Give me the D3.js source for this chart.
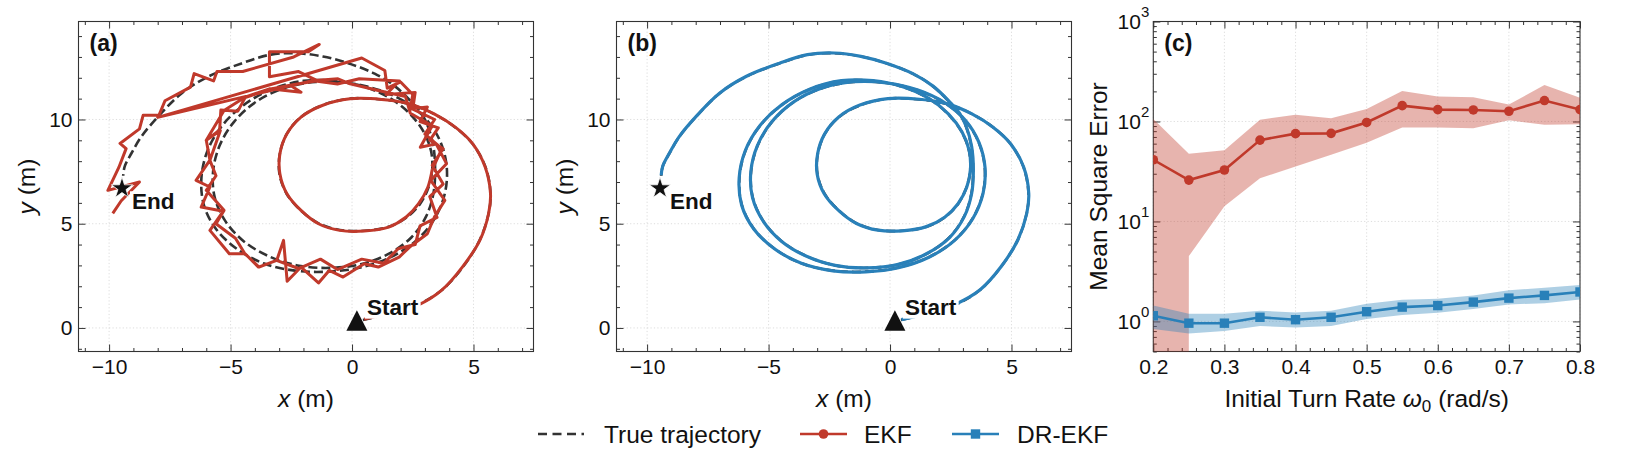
<!DOCTYPE html>
<html>
<head>
<meta charset="utf-8">
<script src="https://cdn.jsdelivr.net/npm/d3@7"></script>
<style>
  body { margin: 0; background: #fff; }
  text { font-family: "Liberation Sans", Arial, Helvetica, sans-serif; fill: #111; }
</style>
</head>
<body>
<script>
// ---- data ----
var startPt = [0.2, 0.35];
var endPt = [-9.47, 6.7];

// true trajectory (x, y in m)
var truePath = [
  [0.45,0.38],[1.5,0.68],[2.7,1.12],[3.7,1.82],[4.55,2.9],[5.25,4.2],[5.62,5.48],[5.7,6.45],[5.5,7.7],
  [4.97,8.82],[4.25,9.62],[3.38,10.26],[2.37,10.74],[1.22,10.96],[-0.08,11.0],[-1.23,10.68],[-2.1,10.12],
  [-2.68,9.32],[-2.97,8.37],[-2.99,7.4],[-2.7,6.45],[-2.12,5.65],[-1.38,5.02],[-0.5,4.7],[0.5,4.66],
  [1.5,4.85],[2.25,5.3],[2.8,5.95],[3.15,6.75],[3.3,7.6],[3.25,8.5],[2.95,9.4],[2.4,10.25],[1.6,11.0],
  [0.55,11.55],[-0.7,11.85],[-2.0,11.85],[-3.3,11.45],[-4.45,10.7],[-5.35,9.7],[-5.95,8.5],[-6.2,7.2],
  [-6.1,5.9],[-5.6,4.75],[-4.75,3.8],[-3.65,3.1],[-2.35,2.75],[-1.0,2.7],[0.35,2.9],[1.6,3.4],[2.65,4.2],
  [3.4,5.25],[3.82,6.45],[3.9,7.7],[3.65,8.9],[3.1,9.95],[2.25,10.8],[1.15,11.4],[-0.15,11.75],[-1.5,11.8],
  [-2.8,11.5],[-3.95,10.85],[-4.85,9.9],[-5.45,8.75],[-5.72,7.5],[-5.65,6.25],[-5.2,5.1],[-4.45,4.15],
  [-3.45,3.45],[-2.25,3.0],[-0.95,2.88],[0.35,3.05],[1.5,3.55],[2.45,4.35],[3.05,5.35],[3.35,6.45],
  [3.42,7.6],[3.35,8.7],[3.13,9.65],[2.85,10.3],[2.44,10.85],[1.76,11.6],[0.93,12.2],[-0.16,12.7],
  [-1.2,13.02],[-2.3,13.18],[-3.4,13.1],[-4.55,12.69],[-5.93,12.05],[-7.02,11.25],[-7.98,10.14],
  [-8.67,9.18],[-9.08,8.38],[-9.36,7.74],[-9.42,7.3]
];

// EKF estimate: smooth first part, then jagged
var ekfSmooth = [
  [0.5,0.42],[1.5,0.7],[2.72,1.1],[3.68,1.8],[4.54,2.92],[5.26,4.2],[5.62,5.48],[5.7,6.44],[5.48,7.72],
  [4.97,8.83],[4.25,9.63],[3.38,10.27],[2.37,10.75],[1.22,10.96],[-0.08,10.99],[-1.23,10.67],[-2.1,10.11],
  [-2.68,9.31],[-2.97,8.35],[-2.97,7.4],[-2.68,6.44],[-2.1,5.64],[-1.38,5.0],[-0.51,4.68],[0.5,4.65],
  [1.51,4.84],[2.23,5.32],[2.74,5.96],[3.12,6.75],[3.3,7.6]
];
var ekfJagged = [
  [3.3,7.6],[3.7,8.6],[3.0,9.3],[3.4,10.0],[2.5,10.5],[2.6,11.3],[1.4,11.2],[1.95,11.85],[0.3,11.95],
  [-0.6,11.7],[-1.5,11.85],[-2.5,11.65],[-3.4,11.45],[-4.4,11.05],[-4.7,10.4],[-5.4,10.45],[-5.45,9.5],
  [-6.0,9.0],[-5.85,8.05],[-6.42,7.08],[-5.85,6.76],[-6.21,5.8],[-5.3,5.6],[-5.85,4.68],[-5.05,3.56],
  [-4.4,3.56],[-3.85,2.92],[-3.1,3.24],[-2.82,4.2],[-2.67,2.24],[-2.1,2.92],[-1.38,2.16],[-0.94,2.76],
  [-0.37,2.44],[0.5,3.08],[1.08,2.92],[1.94,3.4],[2.37,3.88],[3.1,4.52],[3.39,5.32],[3.82,6.12],[3.24,7.08],
  [3.89,7.88],[3.46,8.83],[2.81,8.67],[3.3,9.7],[2.4,10.3],[2.2,11.1],[1.08,11.39],[-0.08,11.71],
  [-0.58,11.95],[-1.52,11.87],[-2.53,11.63],[-2.1,11.31],[-3.4,11.47],[-4.41,11.07],[-5.27,10.43],
  [-6.0,9.0],[-5.42,9.47],[-5.85,8.04],[-5.6,7.3],[-6.0,6.6],[-5.27,5.64],[-5.6,5.0],[-4.8,4.3],
  [-4.41,3.56],[-3.83,2.92],[-3.11,3.24],[-2.2,2.85],[-1.3,3.3],[-0.6,2.8],[0.4,3.3],[1.3,3.1],[1.9,3.8],
  [2.6,4.0],[2.8,4.9],[3.5,5.3],[3.2,6.3],[3.75,6.9],[3.3,7.8],[3.75,8.6],[3.2,9.0],[3.55,9.6],[2.8,9.9],
  [3.1,10.6],[2.4,10.5],[2.5,11.2],[2.0,11.8],[1.45,11.5],[1.35,12.35],[0.4,12.95],[-8.0,10.1],[-1.5,11.9],
  [-2.2,12.3],[-3.4,12.05],[-3.4,13.25],[-1.8,13.25],[-1.35,13.6],[-2.4,13.0],[-4.5,12.3],[-5.56,12.3],
  [-5.7,11.85],[-6.5,12.2],[-6.65,11.55],[-7.7,10.9],[-7.95,10.2],[-8.6,10.2],[-8.75,9.55],[-9.55,8.85],
  [-9.3,8.6],[-9.6,7.7],[-10.05,6.6],[-8.75,7.0],[-9.5,6.1],[-9.85,5.5]
];

// DR-EKF estimate, follows the truth closely
var drekfPath = [
  [0.47,0.4],[1.52,0.7],[2.7,1.14],[3.72,1.84],[4.56,2.92],[5.26,4.22],[5.63,5.5],[5.71,6.46],[5.5,7.72],
  [4.96,8.84],[4.24,9.63],[3.37,10.27],[2.36,10.75],[1.21,10.97],[-0.09,11.0],[-1.24,10.69],[-2.11,10.12],
  [-2.69,9.31],[-2.98,8.36],[-3.0,7.39],[-2.71,6.44],[-2.12,5.64],[-1.38,5.01],[-0.5,4.69],[0.5,4.66],
  [1.5,4.86],[2.25,5.31],[2.8,5.96],[3.16,6.76],[3.31,7.61],[3.26,8.5],[2.96,9.41],[2.41,10.26],[1.6,11.01],
  [0.55,11.56],[-0.7,11.86],[-2.0,11.86],[-3.31,11.45],[-4.46,10.7],[-5.36,9.7],[-5.96,8.5],[-6.21,7.2],
  [-6.11,5.9],[-5.61,4.75],[-4.76,3.8],[-3.65,3.1],[-2.35,2.74],[-1.0,2.69],[0.35,2.89],[1.6,3.39],[2.66,4.2],
  [3.41,5.25],[3.83,6.45],[3.91,7.7],[3.66,8.9],[3.11,9.95],[2.26,10.8],[1.15,11.41],[-0.15,11.76],[-1.5,11.81],
  [-2.8,11.51],[-3.95,10.86],[-4.86,9.9],[-5.46,8.75],[-5.73,7.5],[-5.66,6.25],[-5.21,5.1],[-4.46,4.15],
  [-3.46,3.45],[-2.26,3.0],[-0.96,2.88],[0.34,3.05],[1.5,3.56],[2.46,4.35],[3.06,5.35],[3.36,6.45],
  [3.43,7.6],[3.36,8.7],[3.14,9.65],[2.86,10.3],[2.45,10.85],[1.77,11.6],[0.94,12.2],[-0.15,12.7],
  [-1.2,13.03],[-2.3,13.19],[-3.4,13.11],[-4.55,12.7],[-5.93,12.06],[-7.02,11.26],[-7.98,10.15],
  [-8.67,9.19],[-9.08,8.39],[-9.36,7.75],[-9.42,7.32]
];

// panel (c): MSE vs initial turn rate
var omega = [0.2, 0.25, 0.3, 0.35, 0.4, 0.45, 0.5, 0.55, 0.6, 0.65, 0.7, 0.75, 0.8];
var ekfMse   = [41.4, 25.9, 32.7, 65.1, 75.5, 76.1, 97.7, 144, 131.5, 130.4, 126.5, 162, 131.5];
var ekfUpper = [106, 47.6, 51.5, 104, 117, 108, 133, 202, 178, 175, 148, 231, 173];
var ekfLower = [-30, 4.5, 14.2, 27, 35.4, 46.5, 61.1, 86.9, 86.9, 85.5, 103, 92.5, 94];
var drMse    = [1.14, 0.96, 0.96, 1.10, 1.04, 1.10, 1.25, 1.39, 1.44, 1.56, 1.71, 1.82, 1.97];
var drUpper  = [1.44, 1.19, 1.19, 1.28, 1.23, 1.28, 1.50, 1.65, 1.69, 1.82, 2.05, 2.17, 2.31];
var drLower  = [0.84, 0.755, 0.80, 0.90, 0.87, 0.90, 1.06, 1.16, 1.22, 1.33, 1.48, 1.52, 1.66];

var trajXTicks = [-10, -5, 0, 5];
var trajYTicks = [0, 5, 10];
var omegaTicks = [0.2, 0.3, 0.4, 0.5, 0.6, 0.7, 0.8];
var mseTicks = [1, 10, 100, 1000];

// ---- layout / style ----
var W = 1648, H = 468;
var TOP = 21.5, BOT = 351.5;
var RED = '#c0392b', BLUE = '#2980b9', DARK = '#333333';
var TICK_FS = '21px', LABEL_FS = '24.5px';

var svg = d3.select('body').append('svg')
  .attr('width', W).attr('height', H)
  .attr('viewBox', '0 0 ' + W + ' ' + H);

function noDomain(g) { g.select('.domain').remove(); }

// frame with inward ticks on all four sides plus dotted grid
function drawFrame(g, sx, sy, o) {
  var x0 = sx.range()[0], x1 = sx.range()[1];
  var grid = g.append('g').attr('class', 'grid');
  grid.selectAll('line.gx').data(o.xMajor).join('line')
    .attr('x1', d => sx(d)).attr('x2', d => sx(d)).attr('y1', TOP).attr('y2', BOT);
  grid.selectAll('line.gy').data(o.yMajor).join('line')
    .attr('y1', d => sy(d)).attr('y2', d => sy(d)).attr('x1', x0).attr('x2', x1);
  grid.selectAll('line').attr('stroke', '#d4d4d4').attr('stroke-width', 0.8)
    .attr('stroke-dasharray', '1.2,2.2');

  g.append('g').attr('transform', 'translate(0,' + BOT + ')')
    .call(d3.axisBottom(sx).tickValues(o.xMajor).tickSize(-7).tickPadding(8).tickFormat(o.xFmt))
    .call(noDomain).selectAll('text').attr('font-size', TICK_FS);
  g.append('g').attr('transform', 'translate(0,' + BOT + ')')
    .call(d3.axisBottom(sx).tickValues(o.xMinor).tickSize(-3.5).tickFormat(''))
    .call(noDomain);
  g.append('g').attr('transform', 'translate(0,' + TOP + ')')
    .call(d3.axisTop(sx).tickValues(o.xMajor).tickSize(-7).tickFormat(''))
    .call(noDomain);
  g.append('g').attr('transform', 'translate(0,' + TOP + ')')
    .call(d3.axisTop(sx).tickValues(o.xMinor).tickSize(-3.5).tickFormat(''))
    .call(noDomain);

  var yl = g.append('g').attr('transform', 'translate(' + x0 + ',0)')
    .call(d3.axisLeft(sy).tickValues(o.yMajor).tickSize(-7).tickPadding(o.yPad || 6).tickFormat(o.yFmt))
    .call(noDomain);
  yl.selectAll('text').attr('font-size', TICK_FS);
  g.append('g').attr('transform', 'translate(' + x0 + ',0)')
    .call(d3.axisLeft(sy).tickValues(o.yMinor).tickSize(-3.5).tickFormat(''))
    .call(noDomain);
  g.append('g').attr('transform', 'translate(' + x1 + ',0)')
    .call(d3.axisRight(sy).tickValues(o.yMajor).tickSize(-7).tickFormat(''))
    .call(noDomain);
  g.append('g').attr('transform', 'translate(' + x1 + ',0)')
    .call(d3.axisRight(sy).tickValues(o.yMinor).tickSize(-3.5).tickFormat(''))
    .call(noDomain);

  g.selectAll('.tick line').attr('stroke', DARK).attr('stroke-width', 1);
  g.selectAll('.tick text').attr('fill', '#111').attr('font-family', '"Liberation Sans", Arial, sans-serif');

  g.append('rect').attr('x', x0).attr('y', TOP).attr('width', x1 - x0).attr('height', BOT - TOP)
    .attr('fill', 'none').attr('stroke', DARK).attr('stroke-width', 1.1);
  return yl;
}

function clipFor(id, sx) {
  svg.append('clipPath').attr('id', id).append('rect')
    .attr('x', sx.range()[0]).attr('y', TOP)
    .attr('width', sx.range()[1] - sx.range()[0]).attr('height', BOT - TOP);
  return 'url(#' + id + ')';
}

function panelLabel(sx, txt) {
  svg.append('text').attr('x', sx.range()[0] + 11).attr('y', TOP + 29)
    .attr('font-size', '23px').attr('font-weight', 'bold').text(txt);
}

// bold label with white box behind it
function boxedLabel(g, x, y, txt) {
  var t = g.append('text').attr('x', x).attr('y', y)
    .attr('font-size', '22.5px').attr('font-weight', 'bold').text(txt);
  var b = t.node().getBBox();
  g.insert('rect', function() { return t.node(); })
    .attr('x', b.x - 2).attr('y', b.y + 2).attr('width', b.width + 4).attr('height', b.height - 3)
    .attr('fill', '#fff');
}

function rotLabel(cx, cy, parts) {
  var t = svg.append('text').attr('transform', 'translate(' + cx + ',' + cy + ') rotate(-90)')
    .attr('text-anchor', 'middle').attr('dy', '0.35em').attr('font-size', LABEL_FS);
  parts.forEach(function(p) {
    t.append('tspan').attr('font-style', p[1] ? 'italic' : null).text(p[0]);
  });
}

function xLabel(cx, parts) {
  var t = svg.append('text').attr('x', cx).attr('y', 407)
    .attr('text-anchor', 'middle').attr('font-size', LABEL_FS);
  parts.forEach(function(p) {
    var s = t.append('tspan').text(p[0]);
    if (p[1] == 'i') s.attr('font-style', 'italic');
    if (p[1] == 'sub') s.attr('font-size', '17px').attr('dy', '5');
    if (p[1] == 'after') s.attr('dy', '-5');
  });
}

var triPath = 'M0,-10.5L10.5,10L-10.5,10Z';

function trajPanel(x0, x1, id, estimate, label) {
  var sx = d3.scaleLinear().domain([-11.26, 7.47]).range([x0, x1]);
  var sy = d3.scaleLinear().domain([-1.13, 14.7]).range([BOT, TOP]);
  var g = svg.append('g');
  drawFrame(g, sx, sy, {
    xMajor: trajXTicks, xMinor: d3.range(-11, 8).filter(d => d % 5 != 0),
    yMajor: trajYTicks, yMinor: d3.range(-1, 15).filter(d => d % 5 != 0),
    xFmt: d => d < 0 ? '\u2212' + Math.abs(d) : d, yFmt: d => d
  });
  var data = svg.append('g').attr('clip-path', clipFor(id, sx));
  var line = d3.line().x(d => sx(d[0])).y(d => sy(d[1]));

  data.append('path').datum(truePath)
    .attr('d', line.curve(d3.curveCatmullRom.alpha(0.5)))
    .attr('fill', 'none').attr('stroke', DARK).attr('stroke-width', 2.6)
    .attr('stroke-dasharray', '9,4');

  estimate(data, line);

  // start and end markers
  var sp = [sx(startPt[0]), sy(startPt[1])];
  boxedLabel(data, sp[0] + 10, sp[1] - 6, 'Start');
  data.append('path').attr('d', triPath).attr('transform', 'translate(' + sp + ')').attr('fill', '#111');
  var ep = [sx(endPt[0]), sy(endPt[1])];
  boxedLabel(data, ep[0] + 10, ep[1] + 21, 'End');
  data.append('path').attr('d', d3.symbol(d3.symbolStar, 140)())
    .attr('transform', 'translate(' + ep + ')').attr('fill', '#111')
    .attr('stroke', '#fff').attr('stroke-width', 0.8);

  panelLabel(sx, label);
  rotLabel(x0 - 52, (TOP + BOT) / 2, [['y', true], [' (m)', false]]);
  xLabel((x0 + x1) / 2, [['x', 'i'], [' (m)', '']]);
}

// (a) EKF
trajPanel(78.5, 533.5, 'clipA', function(data, line) {
  data.append('path').datum(ekfSmooth)
    .attr('d', line.curve(d3.curveCatmullRom.alpha(0.5)))
    .attr('fill', 'none').attr('stroke', RED).attr('stroke-width', 3).attr('stroke-linejoin', 'round');
  data.append('path').datum(ekfJagged)
    .attr('d', line.curve(d3.curveLinear))
    .attr('fill', 'none').attr('stroke', RED).attr('stroke-width', 3).attr('stroke-linejoin', 'round');
}, '(a)');

// (b) DR-EKF
trajPanel(616.5, 1071.5, 'clipB', function(data, line) {
  data.append('path').datum(drekfPath)
    .attr('d', line.curve(d3.curveCatmullRom.alpha(0.5)))
    .attr('fill', 'none').attr('stroke', BLUE).attr('stroke-width', 3.2).attr('stroke-linejoin', 'round');
}, '(b)');

// (c) MSE vs omega
(function() {
  var sx = d3.scaleLinear().domain([0.2, 0.8]).range([1153.3, 1580]);
  var sy = d3.scaleLog().domain([0.5, 1000]).range([BOT, TOP]);
  var g = svg.append('g');
  var minorY = [];
  [0.1, 1, 10, 100].forEach(function(b) {
    d3.range(2, 10).forEach(function(k) {
      var v = +(b * k).toPrecision(3);
      if (v >= 0.5 && v <= 1000) minorY.push(v);
    });
  });
  var yl = drawFrame(g, sx, sy, {
    xMajor: omegaTicks, xMinor: d3.range(0.22, 0.8, 0.02).filter(d => Math.abs(d * 10 - Math.round(d * 10)) > 0.01),
    yMajor: mseTicks, yMinor: minorY, yPad: 4,
    xFmt: d3.format('.1f'), yFmt: () => ''
  });
  yl.selectAll('.tick text').each(function(d) {
    var t = d3.select(this).text('10');
    t.append('tspan').attr('dy', '-0.75em').attr('font-size', '15px').text(Math.round(Math.log10(d)));
  });

  var data = svg.append('g').attr('clip-path', clipFor('clipC', sx));
  var yb = function(v) { return v > 0 ? sy(v) : 1e5; };

  data.append('path').datum(omega)
    .attr('d', d3.area().x(d => sx(d)).y0((d, i) => yb(ekfLower[i])).y1((d, i) => sy(ekfUpper[i])))
    .attr('fill', RED).attr('fill-opacity', 0.38);
  data.append('path').datum(omega)
    .attr('d', d3.area().x(d => sx(d)).y0((d, i) => sy(drLower[i])).y1((d, i) => sy(drUpper[i])))
    .attr('fill', BLUE).attr('fill-opacity', 0.38);

  var ln = function(arr) { return d3.line().x(d => sx(d)).y((d, i) => sy(arr[i])); };
  data.append('path').datum(omega).attr('d', ln(ekfMse))
    .attr('fill', 'none').attr('stroke', RED).attr('stroke-width', 2.6);
  data.selectAll('circle.ekf').data(omega).join('circle')
    .attr('cx', d => sx(d)).attr('cy', (d, i) => sy(ekfMse[i])).attr('r', 4.8).attr('fill', RED);
  data.append('path').datum(omega).attr('d', ln(drMse))
    .attr('fill', 'none').attr('stroke', BLUE).attr('stroke-width', 2.6);
  data.selectAll('rect.dr').data(omega).join('rect')
    .attr('x', d => sx(d) - 4.7).attr('y', (d, i) => sy(drMse[i]) - 4.7)
    .attr('width', 9.4).attr('height', 9.4).attr('fill', BLUE);

  panelLabel(sx, '(c)');
  rotLabel(1098, (TOP + BOT) / 2, [['Mean Square Error', false]]);
  xLabel((1153.3 + 1580) / 2, [['Initial Turn Rate ', ''], ['\u03c9', 'i'], ['0', 'sub'], [' (rad/s)', 'after']]);
})();

// ---- legend ----
(function() {
  var ly = 434;
  var lg = svg.append('g');
  lg.append('line').attr('x1', 538).attr('x2', 584).attr('y1', ly).attr('y2', ly)
    .attr('stroke', DARK).attr('stroke-width', 2.6).attr('stroke-dasharray', '9,5.5');
  lg.append('text').attr('x', 604).attr('y', ly + 9).attr('font-size', LABEL_FS).text('True trajectory');
  lg.append('line').attr('x1', 800).attr('x2', 847).attr('y1', ly).attr('y2', ly)
    .attr('stroke', RED).attr('stroke-width', 2.6);
  lg.append('circle').attr('cx', 823.5).attr('cy', ly).attr('r', 4.8).attr('fill', RED);
  lg.append('text').attr('x', 864).attr('y', ly + 9).attr('font-size', LABEL_FS).text('EKF');
  lg.append('line').attr('x1', 952).attr('x2', 999).attr('y1', ly).attr('y2', ly)
    .attr('stroke', BLUE).attr('stroke-width', 2.6);
  lg.append('rect').attr('x', 970.8).attr('y', ly - 4.7).attr('width', 9.4).attr('height', 9.4).attr('fill', BLUE);
  lg.append('text').attr('x', 1017).attr('y', ly + 9).attr('font-size', LABEL_FS).text('DR-EKF');
})();
</script>
</body>
</html>
